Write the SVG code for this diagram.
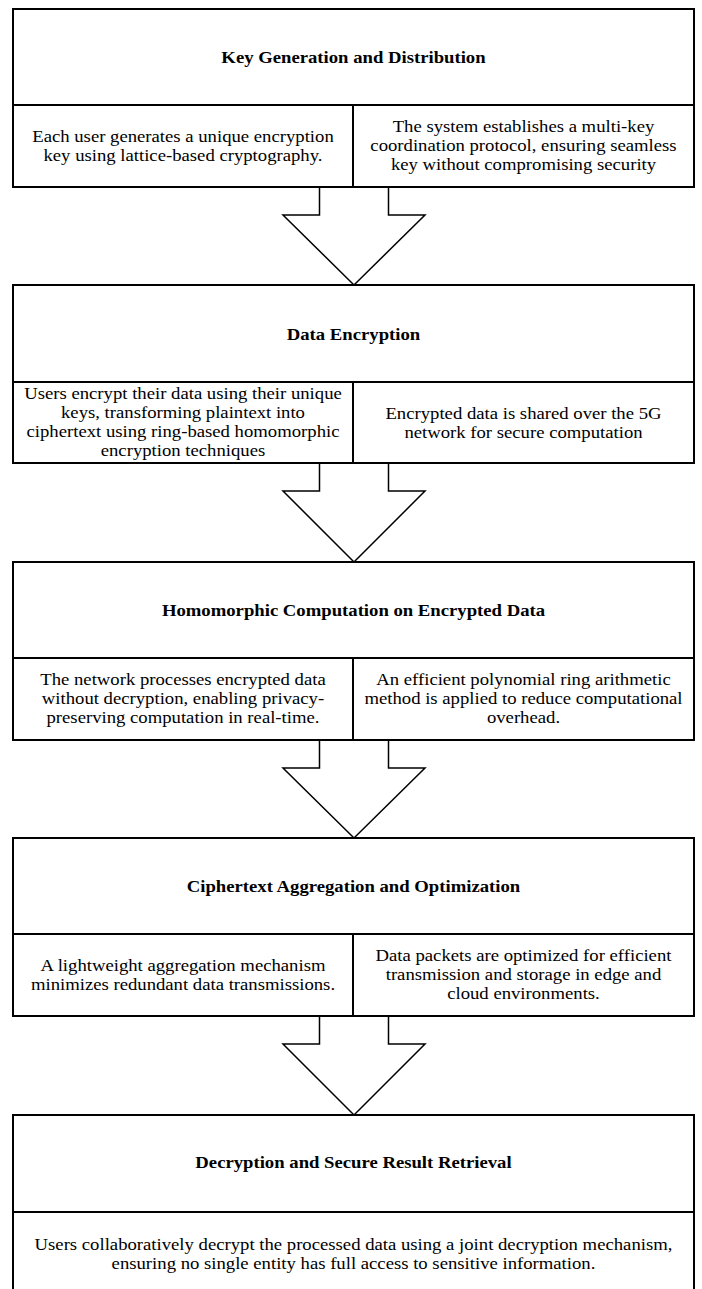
<svg xmlns="http://www.w3.org/2000/svg" width="702" height="1289" viewBox="0 0 702 1289">
<style>
.box{fill:#fff;stroke:#000;stroke-width:2}
.div{stroke:#000;stroke-width:2;fill:none}
.arrow{fill:#fff;stroke:#000;stroke-width:1.5;stroke-linejoin:miter}
.title{font-weight:bold;font-size:17px;text-anchor:middle;fill:#000}
.body{font-size:17px;text-anchor:middle;fill:#000}
</style>
<rect width="702" height="1289" fill="#fff"/>
<g id="connectors">
<polygon class="arrow" points="319.5,187 388.5,187 388.5,215 425,215 354,285 283,215 319.5,215"/>
<polygon class="arrow" points="319.5,463 388.5,463 388.5,491 425,491 354,562 283,491 319.5,491"/>
<polygon class="arrow" points="319.5,740 388.5,740 388.5,768 425,768 354,838 283,768 319.5,768"/>
<polygon class="arrow" points="319.5,1016 388.5,1016 388.5,1044 425,1044 354,1115 283,1044 319.5,1044"/>
</g>
<g font-family="Liberation Serif, Times New Roman, serif">
<g id="node1">
<rect class="box" x="13" y="9" width="681" height="178"/>
<line class="div" x1="13" y1="105" x2="694" y2="105"/>
<line class="div" x1="353" y1="105" x2="353" y2="187"/>
<g transform="scale(1.1,1)">
<text class="title" x="321.36" y="63">Key Generation and Distribution</text>
<text class="body" x="166.36" y="142">Each user generates a unique encryption</text>
<text class="body" x="166.36" y="161">key using lattice-based cryptography.</text>
<text class="body" x="475.91" y="132">The system establishes a multi-key</text>
<text class="body" x="475.91" y="151">coordination protocol, ensuring seamless</text>
<text class="body" x="475.91" y="170">key without compromising security</text>
</g>
</g>
<g id="node2">
<rect class="box" x="13" y="285" width="681" height="178"/>
<line class="div" x1="13" y1="382" x2="694" y2="382"/>
<line class="div" x1="353" y1="382" x2="353" y2="463"/>
<g transform="scale(1.1,1)">
<text class="title" x="321.36" y="340">Data Encryption</text>
<text class="body" x="166.36" y="399">Users encrypt their data using their unique</text>
<text class="body" x="166.36" y="418">keys, transforming plaintext into</text>
<text class="body" x="166.36" y="437">ciphertext using ring-based homomorphic</text>
<text class="body" x="166.36" y="456">encryption techniques</text>
<text class="body" x="475.91" y="419">Encrypted data is shared over the 5G</text>
<text class="body" x="475.91" y="438">network for secure computation</text>
</g>
</g>
<g id="node3">
<rect class="box" x="13" y="562" width="681" height="178"/>
<line class="div" x1="13" y1="658" x2="694" y2="658"/>
<line class="div" x1="353" y1="658" x2="353" y2="740"/>
<g transform="scale(1.1,1)">
<text class="title" x="321.36" y="616">Homomorphic Computation on Encrypted Data</text>
<text class="body" x="166.36" y="685">The network processes encrypted data</text>
<text class="body" x="166.36" y="704">without decryption, enabling privacy-</text>
<text class="body" x="166.36" y="723">preserving computation in real-time.</text>
<text class="body" x="475.91" y="685">An efficient polynomial ring arithmetic</text>
<text class="body" x="475.91" y="704">method is applied to reduce computational</text>
<text class="body" x="475.91" y="723">overhead.</text>
</g>
</g>
<g id="node4">
<rect class="box" x="13" y="838" width="681" height="178"/>
<line class="div" x1="13" y1="934" x2="694" y2="934"/>
<line class="div" x1="353" y1="934" x2="353" y2="1016"/>
<g transform="scale(1.1,1)">
<text class="title" x="321.36" y="892">Ciphertext Aggregation and Optimization</text>
<text class="body" x="166.36" y="971">A lightweight aggregation mechanism</text>
<text class="body" x="166.36" y="990">minimizes redundant data transmissions.</text>
<text class="body" x="475.91" y="961">Data packets are optimized for efficient</text>
<text class="body" x="475.91" y="980">transmission and storage in edge and</text>
<text class="body" x="475.91" y="999">cloud environments.</text>
</g>
</g>
<g id="node5">
<rect class="box" x="13" y="1115" width="681" height="200"/>
<line class="div" x1="13" y1="1212" x2="694" y2="1212"/>
<g transform="scale(1.1,1)">
<text class="title" x="321.36" y="1168">Decryption and Secure Result Retrieval</text>
<text class="body" x="321.36" y="1250">Users collaboratively decrypt the processed data using a joint decryption mechanism,</text>
<text class="body" x="321.36" y="1269">ensuring no single entity has full access to sensitive information.</text>
</g>
</g>
</g>
</svg>
